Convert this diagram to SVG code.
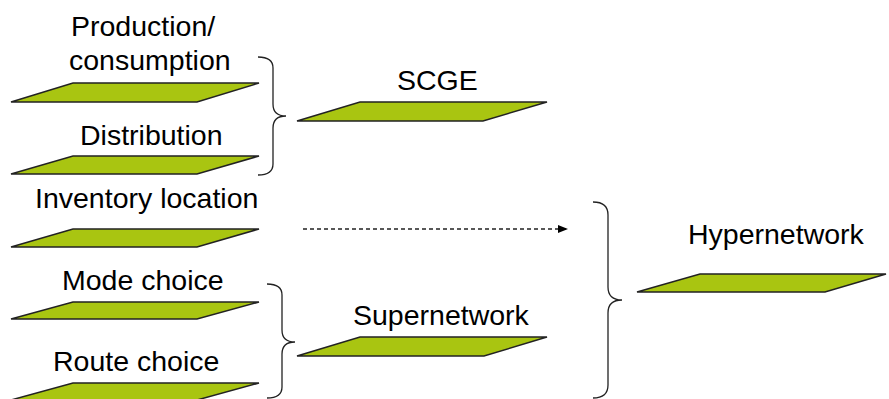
<svg xmlns="http://www.w3.org/2000/svg" width="889" height="399" viewBox="0 0 889 399">
<style>
.p{fill:#A9C511;stroke:#222;stroke-width:1.5;stroke-linejoin:miter}
.t{font-family:"Liberation Sans",Arial,sans-serif;font-size:28.5px;fill:#000}
.b{fill:none;stroke:#222;stroke-width:1.3}
</style>
<defs>
<marker id="ah" markerWidth="10" markerHeight="8" refX="9" refY="4" orient="auto" markerUnits="userSpaceOnUse">
<path d="M0,0 L10,4 L0,8 Z" fill="#000"/>
</marker>
</defs>
<rect width="889" height="399" fill="#fff"/>
<g id="production">
<polygon class="p" points="11,102 73,83 259,83 197,102"/>
<text class="t" x="71" y="36">Production/</text>
<text class="t" x="69" y="70">consumption</text>
</g>
<g id="distribution">
<polygon class="p" points="11,174 73,156 259,156 197,174"/>
<text class="t" x="80" y="145">Distribution</text>
</g>
<g id="inventory">
<polygon class="p" points="11,247 73,229 259,229 197,247"/>
<text class="t" x="35" y="208">Inventory location</text>
</g>
<g id="mode">
<polygon class="p" points="11,319 73,302 259,302 197,319"/>
<text class="t" x="62" y="290">Mode choice</text>
</g>
<g id="route">
<polygon class="p" points="11,400 73,383 259,383 197,400"/>
<text class="t" x="53" y="371">Route choice</text>
</g>
<g id="scge">
<polygon class="p" points="297,121 360,102 547,102 483,121"/>
<text class="t" x="397" y="90">SCGE</text>
</g>
<g id="supernetwork">
<polygon class="p" points="297,356 360,337 547,337 484,356"/>
<text class="t" x="353" y="325">Supernetwork</text>
</g>
<g id="hypernetwork">
<polygon class="p" points="637,292 700,274 886,274 825,292"/>
<text class="t" x="688" y="244">Hypernetwork</text>
</g>
<g id="connectors">
<path class="b" d="M258,57 Q273,57 273,68 L273,104 Q273,116 286,116 Q273,116 273,128 L273,164 Q273,175 258,175"/>
<path class="b" d="M267,284 Q282,284 282,295 L282,330 Q282,342 295,342 Q282,342 282,354 L282,387 Q282,398 267,398"/>
<path class="b" d="M593,202 Q608,202 608,215 L608,287 Q608,300 622,300 Q608,300 608,313 L608,385 Q608,398 593,398"/>
<line x1="303" y1="229" x2="567" y2="229" stroke="#222" stroke-width="1.6" stroke-dasharray="4,3" marker-end="url(#ah)"/>
</g>
</svg>
